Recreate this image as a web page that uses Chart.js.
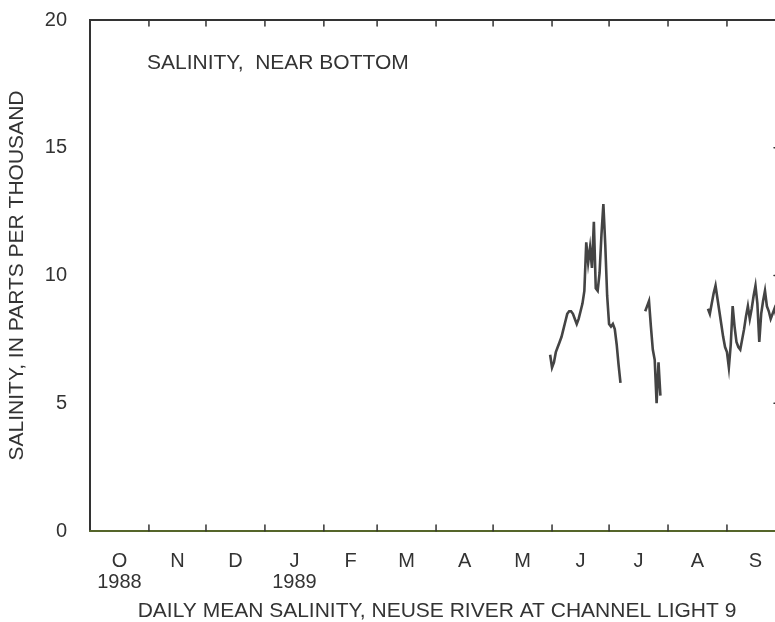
<!DOCTYPE html>
<html><head><meta charset="utf-8">
<script src="https://cdn.jsdelivr.net/npm/chart.js@4/dist/chart.umd.min.js"></script>
<style>html,body{margin:0;padding:0;background:#fff;overflow:hidden}#wrap{width:790px;height:622px;position:relative}</style>
</head><body><div id="wrap"><canvas id="c"></canvas></div>
<script>
// Water year Oct 1988 - Sep 1989; x = day number from Oct 1, 1988
const monthStarts = [0, 31, 61, 92, 123, 151, 182, 212, 243, 273, 304, 335, 365];
const monthLabels = [['O', '1988'], 'N', 'D', ['J', '1989'], 'F', 'M', 'A', 'M', 'J', 'J', 'A', 'S'];
const yTicks = [0, 5, 10, 15, 20];

// Daily mean salinity (ppt), near bottom
const juneStart = 242;
const juneValues = [6.9, 6.4, 6.6, 7.0, 7.2, 7.4, 7.6, 7.9, 8.2, 8.5, 8.6, 8.6, 8.5, 8.3, 8.1, 8.3, 8.6, 8.9, 9.4,
  11.3, 10.5, 11.1, 10.3, 12.1, 9.5, 9.4, 10.1, 11.6, 12.8, 11.2, 9.2, 8.1, 8.0, 8.1, 7.9, 7.3, 6.5, 5.8];
const julyStart = 292;
const julyValues = [8.6, 8.8, 9.0, 8.0, 7.1, 6.7, 5.0, 6.6, 5.3];
const augStart = 325;
const augValues = [8.7, 8.5, 8.9, 9.3, 9.6, 9.1, 8.6, 8.1, 7.6, 7.2, 7.0, 6.4, 7.3, 8.8, 8.0, 7.4, 7.2, 7.1, 7.5, 7.9,
  8.4, 8.8, 8.3, 8.7, 9.2, 9.6, 8.9, 7.4, 8.5, 9.0, 9.4, 8.8, 8.6, 8.3, 8.5, 8.7, 8.4];

const FONT = "'Liberation Sans', Arial, Helvetica, sans-serif";
const TXT = '#333333';

const monthMids = monthStarts.slice(0, -1).map((s, i) => (s + monthStarts[i + 1]) / 2);

function buildPoints() {
  const pts = [];
  [[juneStart, juneValues], [julyStart, julyValues], [augStart, augValues]].forEach(([s, v], k) => {
    if (k > 0) pts.push({ x: s - 0.5, y: null });
    v.forEach((y, i) => pts.push({ x: s + i, y: y }));
  });
  return pts;
}

const framePlugin = {
  id: 'frame',
  afterDraw(chart) {
    const { ctx, chartArea: a, scales } = chart;
    const xs = scales.x, ys = scales.y;
    ctx.save();
    ctx.lineCap = 'round';
    ctx.strokeStyle = '#333333';
    ctx.lineWidth = 2;
    ctx.beginPath();
    ctx.moveTo(a.left, a.bottom);
    ctx.lineTo(a.left, a.top);
    ctx.lineTo(a.right, a.top);
    ctx.lineTo(a.right, a.bottom);
    ctx.stroke();
    ctx.strokeStyle = '#55652a';
    ctx.beginPath();
    ctx.moveTo(a.left, a.bottom);
    ctx.lineTo(a.right, a.bottom);
    ctx.stroke();
    ctx.lineWidth = 1.5;
    ctx.strokeStyle = '#333333';
    monthStarts.slice(1, -1).forEach(d => {
      const px = xs.getPixelForValue(d);
      ctx.beginPath(); ctx.moveTo(px, a.top); ctx.lineTo(px, a.top + 6); ctx.stroke();
      ctx.beginPath(); ctx.moveTo(px, a.bottom); ctx.lineTo(px, a.bottom - 6); ctx.stroke();
    });
    yTicks.slice(1, -1).forEach(v => {
      const py = ys.getPixelForValue(v);
      ctx.beginPath(); ctx.moveTo(a.right, py); ctx.lineTo(a.right - 10, py); ctx.stroke();
    });
    ctx.fillStyle = TXT;
    ctx.font = '21px ' + FONT;
    ctx.textBaseline = 'middle';
    ctx.textAlign = 'left';
    ctx.fillText('SALINITY,  NEAR BOTTOM', 147, 63);
    ctx.restore();
  }
};

new Chart(document.getElementById('c'), {
  type: 'line',
  data: {
    datasets: [{
      data: buildPoints(),
      borderColor: '#444444',
      borderWidth: 2.6,
      pointRadius: 0,
      spanGaps: false,
      tension: 0
    }]
  },
  options: {
    responsive: true,
    maintainAspectRatio: false,
    animation: false,
    layout: { padding: { top: 20, right: 6, left: 0, bottom: 0 } },
    plugins: { legend: { display: false }, tooltip: { enabled: false } },
    scales: {
      x: {
        type: 'linear', min: 0, max: 365,
        afterBuildTicks: s => { s.ticks = monthMids.map(v => ({ value: v })); },
        afterFit: s => { s.height = 91; },
        ticks: {
          autoSkip: false, maxRotation: 0, minRotation: 0, padding: 20, color: TXT,
          font: { family: FONT, size: 20, lineHeight: 1.05 },
          callback: (v, i) => monthLabels[i]
        },
        grid: { display: false, drawTicks: false },
        border: { display: false },
        title: {
          display: true, text: 'DAILY MEAN SALINITY, NEUSE RIVER AT CHANNEL LIGHT 9', color: TXT,
          font: { family: FONT, size: 21, lineHeight: 1 }, padding: { top: 0, bottom: 0 }
        }
      },
      y: {
        min: 0, max: 20,
        afterBuildTicks: s => { s.ticks = yTicks.map(v => ({ value: v })); },
        afterFit: s => { s.width = 90; s.paddingTop = 0; s.paddingBottom = 0; },
        ticks: { padding: 23, color: TXT, font: { family: FONT, size: 20 } },
        grid: { display: false, drawTicks: false },
        border: { display: false },
        title: {
          display: true, text: 'SALINITY, IN PARTS PER THOUSAND', color: TXT,
          font: { family: FONT, size: 21, lineHeight: 1 }, padding: { top: 7, bottom: 0 }
        }
      }
    }
  },
  plugins: [framePlugin]
});
</script>
</body></html>
